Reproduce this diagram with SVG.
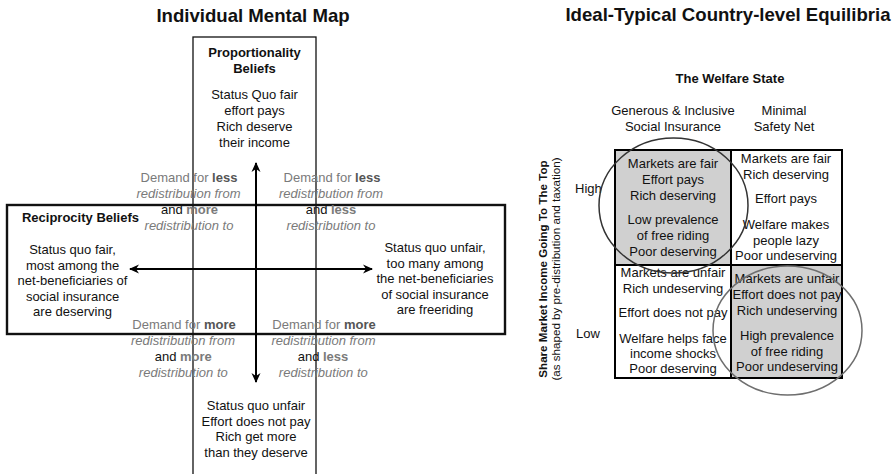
<svg xmlns="http://www.w3.org/2000/svg" width="894" height="474" viewBox="0 0 894 474">
<style>
text{font-family:"Liberation Sans",Arial,Helvetica,sans-serif;font-size:13px;fill:#111;text-anchor:middle}
.title{font-size:18.6px;font-weight:bold}
.b{font-weight:bold}
.g{fill:#7a7a7a}
.gb{fill:#555;font-weight:bold}
.lb{fill:#7a7a7a;font-weight:bold}
.it{fill:#7a7a7a;font-style:italic}
.ax{font-size:11.6px}
.thin{fill:none;stroke:#111;stroke-width:1.3}
.thick{fill:none;stroke:#111;stroke-width:2.4}
.arr{fill:none;stroke:#000;stroke-width:2}
.cell{stroke:#000;stroke-width:2}
.gray{fill:#d0d0d0}
.white{fill:#fff}
</style>
<defs>
<marker id="ah" viewBox="0 0 10 10" refX="9" refY="5" markerWidth="10" markerHeight="10" markerUnits="userSpaceOnUse" orient="auto-start-reverse">
<path d="M0,0.5 L10,5 L0,9.5 L3,5 z" fill="#000"/>
</marker>
</defs>
<rect width="894" height="474" fill="#fff"/>

<g id="title-left"><text class="title" x="253" y="22">Individual Mental Map</text></g>

<g id="proportionality-box">
<rect class="thin" x="193" y="37" width="123" height="450"/>
<text class="b" x="254.5" y="57">Proportionality</text>
<text class="b" x="254.5" y="73">Beliefs</text>
<text x="254.5" y="99">Status Quo fair</text>
<text x="254.5" y="114.5">effort pays</text>
<text x="254.5" y="130.5">Rich deserve</text>
<text x="254.5" y="146.5">their income</text>
<text x="256" y="410">Status quo unfair</text>
<text x="256" y="425.5">Effort does not pay</text>
<text x="256" y="441">Rich get more</text>
<text x="256" y="456.5">than they deserve</text>
</g>

<g id="reciprocity-box">
<rect class="thick" x="7" y="205" width="498" height="129"/>
<text class="b" x="80.5" y="222">Reciprocity Beliefs</text>
<text x="72.5" y="254">Status quo fair,</text>
<text x="72.5" y="269.5">most among the</text>
<text x="72.5" y="285">net-beneficiaries of</text>
<text x="72.5" y="300.5">social insurance</text>
<text x="72.5" y="316">are deserving</text>
<text x="435" y="252">Status quo unfair,</text>
<text x="435" y="267.5">too many among</text>
<text x="435" y="283">the net-beneficiaries</text>
<text x="435" y="298.5">of social insurance</text>
<text x="435" y="314">are freeriding</text>
</g>

<g id="quadrant-upper-left">
<text x="189" y="182"><tspan class="g">Demand for </tspan><tspan class="gb">less</tspan></text>
<text class="it" x="188.5" y="197.5">redistribution from</text>
<text x="189.5" y="213.5">and <tspan class="lb">more</tspan></text>
<text class="it" x="189" y="229.5">redistribution to</text>
</g>
<g id="quadrant-upper-right">
<text x="332" y="182"><tspan class="g">Demand for </tspan><tspan class="gb">less</tspan></text>
<text class="it" x="331" y="197.5">redistribution from</text>
<text x="331" y="213.5">and <tspan class="lb">less</tspan></text>
<text class="it" x="331" y="229.5">redistribution to</text>
</g>
<g id="quadrant-lower-left">
<text x="184" y="328.5"><tspan class="g">Demand for </tspan><tspan class="gb">more</tspan></text>
<text class="it" x="183" y="344.5">redistribution from</text>
<text x="183.3" y="360.5">and <tspan class="lb">more</tspan></text>
<text class="it" x="183.3" y="376.5">redistribution to</text>
</g>
<g id="quadrant-lower-right">
<text x="324" y="328.5"><tspan class="g">Demand for </tspan><tspan class="gb">more</tspan></text>
<text class="it" x="323.5" y="344.5">redistribution from</text>
<text x="323" y="360.5">and <tspan class="lb">less</tspan></text>
<text class="it" x="323.3" y="376.5">redistribution to</text>
</g>

<g id="connectors">
<path class="arr" d="M256,163 L256,382" marker-start="url(#ah)" marker-end="url(#ah)"/>
<path class="arr" d="M130,269 L372,269" marker-start="url(#ah)" marker-end="url(#ah)"/>
</g>

<g id="title-right"><text class="title" x="728" y="21">Ideal-Typical Country-level Equilibria</text></g>
<g id="welfare-state-header">
<text class="b" x="730" y="83">The Welfare State</text>
<text x="673" y="115">Generous &amp; Inclusive</text>
<text x="673" y="130.5">Social Insurance</text>
<text x="784" y="115">Minimal</text>
<text x="784" y="130.5">Safety Net</text>
</g>

<g id="axis-label">
<text class="ax b" transform="translate(547,269) rotate(-90)">Share Market Income Going To The Top</text>
<text class="ax" transform="translate(560,269) rotate(-90)">(as shaped by pre-distribution and taxation)</text>
<text x="575" y="193" style="text-anchor:start">High</text>
<text x="576" y="338" style="text-anchor:start">Low</text>
</g>

<g id="cell-high-generous">
<rect class="cell gray" x="615" y="150" width="116" height="115"/>
<text x="673" y="168">Markets are fair</text>
<text x="673" y="184">Effort pays</text>
<text x="673" y="200">Rich deserving</text>
<text x="673" y="224">Low prevalence</text>
<text x="673" y="240">of free riding</text>
<text x="673" y="255.5">Poor deserving</text>
</g>
<g id="cell-high-minimal">
<rect class="cell white" x="731" y="150" width="111" height="115"/>
<text x="786" y="163">Markets are fair</text>
<text x="786" y="178.5">Rich deserving</text>
<text x="786" y="203">Effort pays</text>
<text x="786" y="229">Welfare makes</text>
<text x="786" y="244.5">people lazy</text>
<text x="786" y="260">Poor undeserving</text>
</g>
<g id="cell-low-generous">
<rect class="cell white" x="615" y="265" width="116" height="113"/>
<text x="673" y="277">Markets are unfair</text>
<text x="673" y="293">Rich undeserving</text>
<text x="673" y="317">Effort does not pay</text>
<text x="673" y="343">Welfare helps face</text>
<text x="673" y="358">income shocks</text>
<text x="673" y="373">Poor deserving</text>
</g>
<g id="cell-low-minimal">
<rect class="cell gray" x="731" y="265" width="111" height="113"/>
<text x="787" y="283">Markets are unfair</text>
<text x="787" y="299">Effort does not pay</text>
<text x="787" y="315">Rich undeserving</text>
<text x="787" y="340">High prevalence</text>
<text x="787" y="355.5">of free riding</text>
<text x="787" y="371">Poor undeserving</text>
</g>

<g id="equilibrium-circles">
<ellipse cx="673.5" cy="205.5" rx="74.5" ry="67.5" fill="none" stroke="#333" stroke-width="1.5"/>
<ellipse cx="787.5" cy="330.5" rx="74.5" ry="64.5" fill="none" stroke="#6e6e6e" stroke-width="1.5"/>
</g>
</svg>
